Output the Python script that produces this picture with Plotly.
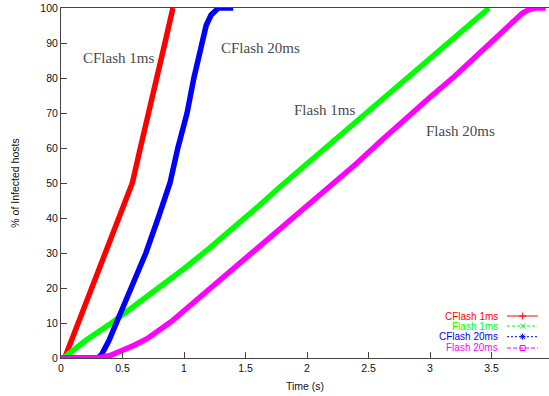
import plotly.graph_objects as go

# ---- data ----
cflash1_t = [0.03, 0.085, 0.14, 0.25, 0.36, 0.47, 0.58, 0.645, 0.715, 0.78, 0.845, 0.91]
cflash1_v = [0, 5, 10, 20, 30, 40, 50, 60, 70, 80, 90, 100]

flash1_t = [0.02, 0.2, 0.41, 0.6, 0.8, 1.0, 1.2, 1.4, 1.6, 1.8, 2.0, 2.2, 2.4, 2.6, 2.8, 3.0, 3.2, 3.4, 3.48]
flash1_v = [0, 5, 10, 15, 20, 25.5, 31.2, 37, 43.2, 49.5, 55.5, 61.5, 67.5, 73.5, 79.5, 85.5, 91.5, 97.5, 100]

cflash20_t = [0, 0.30, 0.33, 0.39, 0.45, 0.57, 0.69, 0.79, 0.886, 0.95, 1.025, 1.08, 1.14, 1.18, 1.22, 1.28, 1.40]
cflash20_v = [0, 0, 1, 5, 10, 20, 30, 40, 50, 60, 70, 80, 90, 95, 98, 100, 100]

flash20_t = [0, 0.30, 0.40, 0.50, 0.60, 0.70, 0.80, 0.90, 1.0, 1.2, 1.4, 1.6, 1.8, 2.0, 2.2, 2.4, 2.6,
             2.8, 3.0, 3.2, 3.4, 3.6, 3.7, 3.75, 3.8, 3.85, 3.94]
flash20_v = [0, 0, 0.7, 2, 3.7, 5.5, 7.8, 10.5, 13.5, 19.5, 25.5, 31.5, 37, 43, 49, 55.5, 62,
             68.5, 74.5, 80.5, 87, 93.5, 97, 98.5, 99.5, 100, 100]

series_names = ["CFlash 1ms", "Flash 1ms", "CFlash 20ms", "Flash 20ms"]
series_colors = ["#ff0000", "#00ff00", "#0000ff", "#ff00ff"]
legend_dash = ["solid", "3px,2px", "2px,2px", "4px,2px"]
legend_symbol = ["cross-thin-open", "x-thin-open", "asterisk-open", "square-open"]

curve_labels = ["CFlash 1ms", "CFlash 20ms", "Flash 1ms", "Flash 20ms"]
curve_label_x = [0.47, 1.62, 2.14, 3.25]
curve_label_y = [85.6, 88.6, 71.0, 64.9]

x_ticks = [0, 0.5, 1, 1.5, 2, 2.5, 3, 3.5]
y_ticks = list(range(0, 101, 10))

# ---- figure ----
fig = go.Figure()
data_t = [cflash1_t, flash1_t, cflash20_t, flash20_t]
data_v = [cflash1_v, flash1_v, cflash20_v, flash20_v]
for name, col, t, v in zip(series_names, series_colors, data_t, data_v):
    fig.add_trace(go.Scatter(x=t, y=v, mode="lines", name=name,
                             line=dict(color=col, width=5.5),
                             showlegend=False, hoverinfo="skip"))

# manual gnuplot-style legend (text left, sample right) on an overlay axis
leg_y = [0.12, 0.0914, 0.0609, 0.0286]
lx0, lxm, lx1 = 0.914, 0.946, 0.977
for name, col, dash, sym, yy in zip(series_names, series_colors, legend_dash, legend_symbol, leg_y):
    fig.add_trace(go.Scatter(x=[lx0, lx1], y=[yy, yy], mode="lines", xaxis="x2", yaxis="y2",
                             line=dict(color=col, width=1, dash=dash),
                             showlegend=False, hoverinfo="skip"))
    fig.add_trace(go.Scatter(x=[lxm], y=[yy], mode="markers", xaxis="x2", yaxis="y2",
                             marker=dict(symbol=sym, size=5, color=col,
                                         line=dict(color=col, width=1)),
                             showlegend=False, hoverinfo="skip"))
    fig.add_annotation(x=0.899, y=yy, xref="x2", yref="y2", text=name, showarrow=False,
                       xanchor="right", yanchor="middle",
                       font=dict(family="Liberation Sans, Arial", size=10, color=col))

for txt, x, y in zip(curve_labels, curve_label_x, curve_label_y):
    fig.add_annotation(x=x, y=y, text=txt, showarrow=False, xanchor="center", yanchor="middle",
                       font=dict(family="Liberation Serif, Times New Roman", size=15, color="#4a4a4a"))

axis_font = dict(family="Liberation Sans, Arial", size=10.5, color="#111111")
fig.update_layout(
    width=549, height=396,
    margin=dict(l=61, r=0, t=8, b=38),
    paper_bgcolor="white", plot_bgcolor="white",
    showlegend=False,
    xaxis=dict(range=[0, 3.967], tickvals=x_ticks, ticks="inside", ticklen=6,
               tickcolor="#444444", showline=True, linecolor="#444444", linewidth=1,
               mirror=True, showgrid=False, zeroline=False, tickfont=axis_font,
               title=dict(text="Time (s)", font=axis_font, standoff=10)),
    yaxis=dict(range=[0, 100], tickvals=y_ticks, ticks="inside", ticklen=6,
               tickcolor="#444444", showline=True, linecolor="#444444", linewidth=1,
               mirror=True, showgrid=False, zeroline=False, tickfont=axis_font,
               title=dict(text="% of Infected hosts", font=axis_font, standoff=18)),
    xaxis2=dict(range=[0, 1], overlaying="x", visible=False, domain=[0, 1]),
    yaxis2=dict(range=[0, 1], overlaying="y", visible=False),
)

fig.write_html("out.html")
